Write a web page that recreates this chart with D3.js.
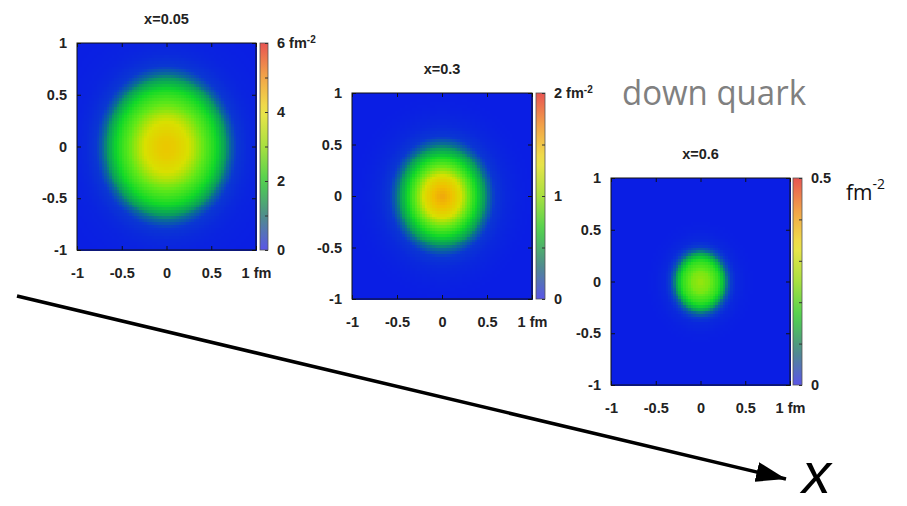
<!DOCTYPE html>
<html>
<head>
<meta charset="utf-8">
<script src="https://cdn.jsdelivr.net/npm/d3@7"></script>
<style>
  html, body { margin: 0; padding: 0; background: #fff; }
  svg { display: block; }
  .tick text { font-family: "Liberation Sans", Arial, sans-serif; font-size: 14.5px; font-weight: bold; fill: #222; }
</style>
</head>
<body>
<svg id="chart" width="907" height="506"></svg>
<script>
// ---------------- data ----------------
const panelTitles = ["x=0.05", "x=0.3", "x=0.6"];
const colorMax = [6, 2, 0.5];
const axisTicks = [-1, -0.5, 0, 0.5, 1];
const colorbarLabels1 = [0, 2, 4, 6];
const colorbarLabels2 = [0, 1, 2];
const colorbarLabels3 = [0, 0.5];
const colorbarMinor1 = [0, 1, 2, 3, 4, 5, 6];
const colorbarMinor2 = [0, 0.5, 1, 1.5, 2];
const colorbarMinor3 = [0, 0.1, 0.2, 0.3, 0.4, 0.5];
// impact-parameter radius (fm) and density (fm^-2) read along the profile
const profileRadius = [0, 0.1, 0.2, 0.3, 0.4, 0.5, 0.6, 0.7, 0.8, 0.9, 1.0, 1.2, 1.5];
const densityX005 = [4.3, 4.15, 3.8, 3.35, 2.8, 2.2, 1.5, 0.8, 0.4, 0.2, 0.1, 0.03, 0];
const densityX03  = [1.6, 1.5, 1.22, 0.9, 0.55, 0.28, 0.13, 0.06, 0.03, 0.01, 0, 0, 0];
const densityX06  = [0.26, 0.24, 0.18, 0.065, 0.015, 0.004, 0, 0, 0, 0, 0, 0, 0];
const bigLabel = "down quark";
const arrowLabel = "x";

// ---------------- styling ----------------
const heatStops = [0, 0.08, 0.18, 0.3, 0.45, 0.6, 0.75, 0.9, 1];
const heatColors = ["#0a1ee4", "#0a3ad0", "#0a9a60", "#10d828", "#60e818", "#d8e000", "#f0c000", "#f07028", "#e84848"];
const barStops = [0, 0.17, 0.33, 0.5, 0.67, 0.83, 1];
const barColors = ["#5a55e8", "#4f8f88", "#4fd050", "#a8e040", "#eee44a", "#f2a848", "#e85452"];
const heatColor = d3.scaleLinear().domain(heatStops).range(heatColors).clamp(true);
const barColor = d3.scaleLinear().domain(barStops).range(barColors);

const svg = d3.select("#chart");
const defs = svg.append("defs");

const layouts = [
  { x0: 77,  x1: 256, y0: 43,  y1: 250, cb0: 260, cb1: 268 },
  { x0: 352, x1: 532, y0: 93,  y1: 299, cb0: 536, cb1: 545 },
  { x0: 611, x1: 790, y0: 178, y1: 385, cb0: 793, cb1: 802 }
];
const profiles = [densityX005, densityX03, densityX06];
const cbLabels = [colorbarLabels1, colorbarLabels2, colorbarLabels3];
const cbMinor = [colorbarMinor1, colorbarMinor2, colorbarMinor3];

// gradient for colorbars
const grad = defs.append("linearGradient").attr("id", "cbgrad")
  .attr("x1", 0).attr("y1", 1).attr("x2", 0).attr("y2", 0);
d3.range(0, 1.0001, 0.05).forEach(t => {
  grad.append("stop").attr("offset", t).attr("stop-color", barColor(t));
});

const N = 72;
layouts.forEach((L, k) => {
  const g = svg.append("g");
  const x = d3.scaleLinear().domain([-1, 1]).range([L.x0, L.x1]);
  const y = d3.scaleLinear().domain([-1, 1]).range([L.y1, L.y0]);
  const prof = d3.scaleLinear().domain(profileRadius).range(profiles[k]).clamp(true);
  const step = 2 / N;
  const cells = [];
  for (let i = 0; i < N; i++) for (let j = 0; j < N; j++) {
    const cx = -1 + (i + 0.5) * step, cy = -1 + (j + 0.5) * step;
    cells.push({ i, j, v: prof(Math.hypot(cx, cy)) });
  }
  g.append("g").selectAll("rect").data(cells).join("rect")
    .attr("x", d => x(-1 + d.i * step))
    .attr("y", d => y(-1 + (d.j + 1) * step))
    .attr("width", x(step) - x(0) + 0.6)
    .attr("height", y(0) - y(step) + 0.6)
    .attr("fill", d => heatColor(d.v / colorMax[k]))
    .attr("shape-rendering", "crispEdges");

  // frame
  g.append("rect").attr("x", L.x0).attr("y", L.y0)
    .attr("width", L.x1 - L.x0).attr("height", L.y1 - L.y0)
    .attr("fill", "none").attr("stroke", "#111").attr("stroke-width", 1);

  const fmt = d => d === 1 ? "1 fm" : String(d);
  g.append("g").attr("transform", `translate(0,${L.y1})`)
    .call(d3.axisBottom(x).tickValues(axisTicks).tickSize(-4).tickPadding(18).tickFormat(fmt));
  g.append("g").attr("transform", `translate(${L.x0},0)`)
    .call(d3.axisLeft(y).tickValues(axisTicks).tickSize(-4).tickPadding(10).tickFormat(d => String(d)));
  g.append("g").attr("transform", `translate(0,${L.y0})`)
    .call(d3.axisTop(x).tickValues(axisTicks).tickSize(-4).tickFormat(""));
  g.append("g").attr("transform", `translate(${L.x1},0)`)
    .call(d3.axisRight(y).tickValues(axisTicks).tickSize(-4).tickFormat(""));
  g.selectAll(".domain").remove();
  g.selectAll(".tick line").attr("stroke", "#111");

  // title
  g.append("text").attr("x", (L.x0 + L.x1) / 2).attr("y", L.y0 - 19)
    .attr("text-anchor", "middle")
    .style("font-family", "Liberation Sans, Arial, sans-serif").style("font-size", "14.5px")
    .style("font-weight", "bold")
    .attr("fill", "#222").text(panelTitles[k]);

  // colorbar
  const cy = d3.scaleLinear().domain([0, colorMax[k]]).range([L.y1, L.y0]);
  g.append("rect").attr("x", L.cb0).attr("y", L.y0)
    .attr("width", L.cb1 - L.cb0).attr("height", L.y1 - L.y0)
    .attr("fill", "url(#cbgrad)").attr("stroke", "#555").attr("stroke-width", 0.8);
  g.append("g").attr("transform", `translate(${L.cb1},0)`)
    .call(d3.axisRight(cy).tickValues(cbMinor[k]).tickSize(-3).tickFormat(""))
    .call(s => s.selectAll(".tick line").attr("stroke", "#333"))
    .call(s => s.select(".domain").remove());
  const cax = g.append("g").attr("transform", `translate(${L.cb1},0)`)
    .call(d3.axisRight(cy).tickValues(cbLabels[k]).tickSize(0).tickPadding(9)
      .tickFormat(d => (k < 2 && d === colorMax[k]) ? d + " fm" : String(d)));
  cax.select(".domain").remove();
  if (k < 2) {
    cax.selectAll(".tick text").filter(d => d === colorMax[k])
      .append("tspan").attr("dy", "-0.55em").style("font-size", "10px").text("-2");
  }
});

// "fm^-2" label for third panel
svg.append("text").attr("x", 846).attr("y", 200)
  .style("font-family", "Open Sans, Noto Sans, sans-serif").style("font-size", "21px")
  .attr("fill", "#111")
  .text("fm")
  .append("tspan").attr("dy", -11).style("font-size", "14px").text("-2");

// "down quark"
svg.append("text").attr("x", 622).attr("y", 105)
  .style("font-family", "Open Sans, Noto Sans, sans-serif").style("font-size", "34px")
  .attr("fill", "#808080")
  .attr("textLength", 184).attr("lengthAdjust", "spacingAndGlyphs")
  .text(bigLabel);

// arrow
defs.append("marker").attr("id", "ahead")
  .attr("markerUnits", "userSpaceOnUse")
  .attr("viewBox", "0 0 30 20").attr("refX", 30).attr("refY", 10)
  .attr("markerWidth", 30).attr("markerHeight", 20)
  .attr("orient", "auto")
  .append("path").attr("d", "M0,0 L30,10 L0,20 Z").attr("fill", "#000");
svg.append("line").attr("x1", 17).attr("y1", 296).attr("x2", 786).attr("y2", 479)
  .attr("stroke", "#000").attr("stroke-width", 3.5).attr("marker-end", "url(#ahead)");

svg.append("text").attr("x", 802).attr("y", 493)
  .style("font-family", "Liberation Sans, Arial, sans-serif").style("font-size", "58px")
  .style("font-style", "italic")
  .attr("fill", "#000").text(arrowLabel);
</script>
</body>
</html>
